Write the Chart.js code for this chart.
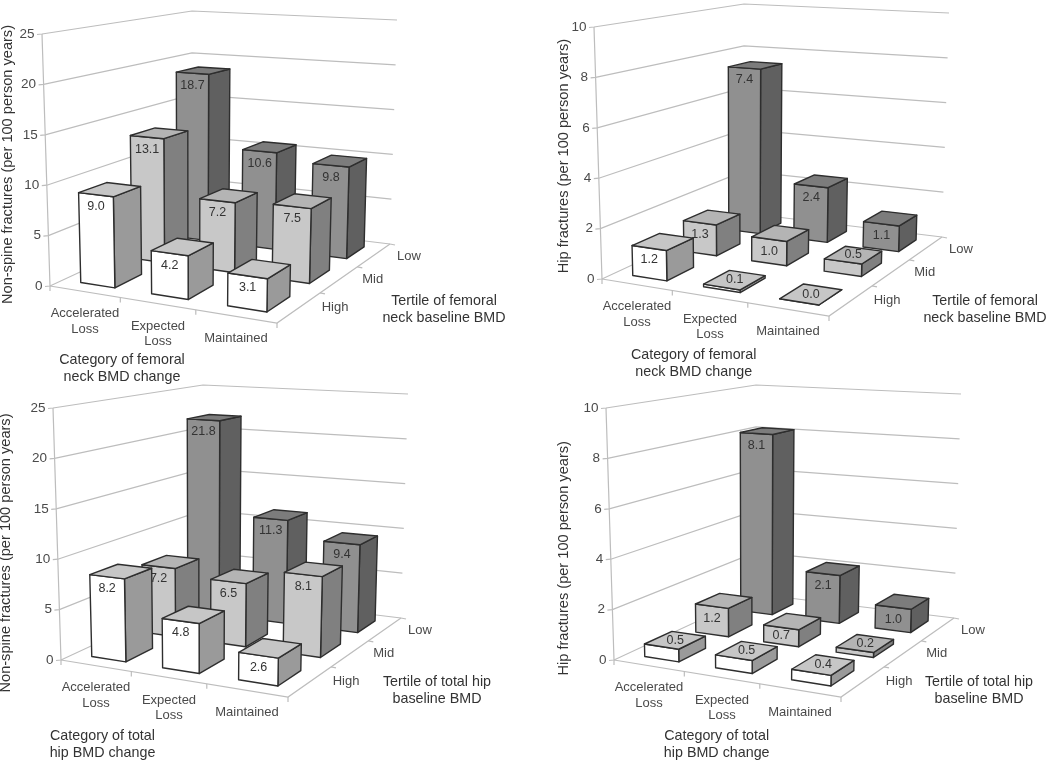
<!DOCTYPE html>
<html>
<head>
<meta charset="utf-8">
<script src="https://cdn.jsdelivr.net/npm/chart.js@4/dist/chart.umd.js"></script>
<style>
html,body{margin:0;padding:0;background:#fff;width:1050px;height:761px;overflow:hidden}
canvas{position:absolute;display:block}
</style>
</head>
<body>
<canvas id="c0" width="525" height="384" style="left:0;top:0"></canvas>
<canvas id="c1" width="525" height="384" style="left:525px;top:0"></canvas>
<canvas id="c2" width="525" height="377" style="left:0;top:384px"></canvas>
<canvas id="c3" width="525" height="377" style="left:525px;top:384px"></canvas>
<script>
// ---- data ----
const categories = ['Accelerated Loss', 'Expected Loss', 'Maintained'];
const tertiles = ['High', 'Mid', 'Low'];

const femoralNonSpineHigh = [9.0, 4.2, 3.1];
const femoralNonSpineMid  = [13.1, 7.2, 7.5];
const femoralNonSpineLow  = [18.7, 10.6, 9.8];

const femoralHipHigh = [1.2, 0.1, 0.0];
const femoralHipMid  = [1.3, 1.0, 0.5];
const femoralHipLow  = [7.4, 2.4, 1.1];

const totalHipNonSpineHigh = [8.2, 4.8, 2.6];
const totalHipNonSpineMid  = [7.2, 6.5, 8.1];
const totalHipNonSpineLow  = [21.8, 11.3, 9.4];

const totalHipHipHigh = [0.5, 0.5, 0.4];
const totalHipHipMid  = [1.2, 0.7, 0.2];
const totalHipHipLow  = [8.1, 2.1, 1.0];

// ---- panel layout ----
const PANELS = [
  {id:'c0', org:[0,0],     off:[0,0],    max:25, step:5, high:femoralNonSpineHigh, mid:femoralNonSpineMid, low:femoralNonSpineLow,
   yTitle:'Non-spine fractures (per 100 person years)', yt:[8,164.5],
   tTitle:['Tertile of femoral','neck baseline BMD'], tt:[444,301], cTitle:['Category of femoral','neck BMD change'], ct:[122,360]},
  {id:'c1', org:[525,0],   off:[552,-7], max:10, step:2, high:femoralHipHigh, mid:femoralHipMid, low:femoralHipLow,
   yTitle:'Hip fractures (per 100 person years)', yt:[564,156],
   tTitle:['Tertile of femoral','neck baseline BMD'], tt:[985,301], cTitle:['Category of femoral','neck BMD change'], ct:[693.7,355.5]},
  {id:'c2', org:[0,384],   off:[11,374], max:25, step:5, high:totalHipNonSpineHigh, mid:totalHipNonSpineMid, low:totalHipNonSpineLow,
   yTitle:'Non-spine fractures (per 100 person years)', yt:[6,553],
   tTitle:['Tertile of total hip','baseline BMD'], tt:[437,681.7], cTitle:['Category of total','hip BMD change'], ct:[102.5,736]},
  {id:'c3', org:[525,384], off:[564,374], max:10, step:2, high:totalHipHipHigh, mid:totalHipHipMid, low:totalHipHipLow,
   yTitle:'Hip fractures (per 100 person years)', yt:[563.5,558.3],
   tTitle:['Tertile of total hip','baseline BMD'], tt:[979,681.7], cTitle:['Category of total','hip BMD change'], ct:[716.7,736]}
];

// Box corners of the reference panel: FL, FR, BR, BL
const FLOOR = [[50,286],[277,323],[390,244],[192,220]];
const CEIL  = [[42,34],[282,48],[397,20],[192,11]];
const CAT_LABELS = [[['Accelerated','Loss'],85,313.5],[['Expected','Loss'],158,326],[['Maintained'],236,338.5]];
const TER_LABELS = [['High',335,307.7],['Mid',372.7,279],['Low',409,256]];
const STYLES = [
  {front:'#ffffff', top:'#c6c6c6', side:'#9a9a9a'},
  {front:'#c8c8c8', top:'#b4b4b4', side:'#808080'},
  {front:'#909090', top:'#7c7c7c', side:'#606060'}
];
const EDGE = '#2e2e2e', GRID = '#bdbdbd', TEXT = '#333333', SOFT = '#4a4a4a';
const FONT = '"Liberation Sans", Arial, sans-serif';
Chart.defaults.font.family = FONT;

function quad(p){
  const [[x0,y0],[x1,y1],[x2,y2],[x3,y3]] = p;
  const dx1=x1-x2, dx2=x3-x2, sx=x0-x1+x2-x3, dy1=y1-y2, dy2=y3-y2, sy=y0-y1+y2-y3;
  const det=dx1*dy2-dx2*dy1;
  const g=(sx*dy2-dx2*sy)/det, h=(dx1*sy-sx*dy1)/det;
  const a=x1-x0+g*x1, b=x3-x0+h*x3, d=y1-y0+g*y1, e=y3-y0+h*y3;
  return (u,w)=>{const q=g*u+h*w+1; return [(a*u+b*w+x0)/q,(d*u+e*w+y0)/q];};
}
const GEOM = {};
PANELS.forEach(p=>{
  const dx=p.off[0]-p.org[0], dy=p.off[1]-p.org[1];
  const sh=c=>c.map(q=>[q[0]+dx,q[1]+dy]);
  GEOM[p.id]={dx,dy,floor:quad(sh(FLOOR)),ceil:quad(sh(CEIL)),panel:p,
    axisX:FLOOR[0][0]+dx, top:CEIL[0][1]+dy, bottom:FLOOR[0][1]+dy};
});

// (u,w) in 0..1 over the floor, height through the library's value scale
function project(chart,u,w,v){
  const g=GEOM[chart.canvas.id], y=chart.scales.y;
  const t=(y.bottom-y.getPixelForValue(v))/(y.bottom-y.top);
  const a=g.floor(u,w), b=g.ceil(u,w);
  return [a[0]+(b[0]-a[0])*t, a[1]+(b[1]-a[1])*t];
}
function uOf(s,i,off){const c=s.getPixelForValue(1)-s.getPixelForValue(0);return (s.getPixelForValue(i)+off*c-s.left)/s.width;}
function poly(ctx,pts,fill){
  ctx.beginPath();pts.forEach((q,i)=>i?ctx.lineTo(q[0],q[1]):ctx.moveTo(q[0],q[1]));ctx.closePath();
  ctx.fillStyle=fill;ctx.fill();ctx.stroke();
}

// Bars drawn as boxes; the position comes from the chart's scales
const HALF_U=0.245, HALF_W=0.26;
Chart.BarElement.prototype.draw=function(ctx){
  const c=this.$cell, chart=c.chart, v=chart.data.datasets[c.datasetIndex].data[c.dataIndex], st=STYLES[c.datasetIndex];
  const x=chart.scales.x, z=chart.scales.z;
  const u0=uOf(x,c.dataIndex,-HALF_U), u1=uOf(x,c.dataIndex,HALF_U);
  const w0=uOf(z,c.datasetIndex,-HALF_W), w1=uOf(z,c.datasetIndex,HALF_W);
  const P=(u,w,h)=>project(chart,u,w,h);
  ctx.save();
  ctx.lineWidth=1.4;ctx.strokeStyle=EDGE;ctx.lineJoin='round';
  poly(ctx,[P(u1,w0,0),P(u1,w1,0),P(u1,w1,v),P(u1,w0,v)],st.side);
  poly(ctx,[P(u0,w0,0),P(u1,w0,0),P(u1,w0,v),P(u0,w0,v)],st.front);
  poly(ctx,[P(u0,w0,v),P(u1,w0,v),P(u1,w1,v),P(u0,w1,v)],st.top);
  ctx.fillStyle=TEXT;ctx.font='12.5px '+FONT;ctx.textAlign='center';ctx.textBaseline='middle';
  let lab;
  if(v<0.6){lab=P((u0+u1)/2,(w0+w1)/2,v);}
  else{const a=P(u0,w0,v),b=P(u1,w0,v);lab=[(a[0]+b[0])/2,(a[1]+b[1])/2+(v<1?8:12)];}
  ctx.fillText(v.toFixed(1),lab[0],lab[1]);
  ctx.restore();
};

// Value axis that follows the slanted front edge of the box
class SlantedLinear extends Chart.LinearScale{
  _computeLabelItems(area){
    const items=super._computeLabelItems(area);
    items.forEach((it,i)=>{
      const t=this.ticks[i];
      if(t) it.options.translation[0]+=project(this.chart,0,0,t.value)[0]-this.right;
    });
    return items;
  }
  drawTitle(){
    const g=GEOM[this.chart.canvas.id], p=g.panel, ctx=this.ctx;
    const lh=this.options.title.font.size*1.2;
    ctx.save();
    ctx.translate(p.yt[0]-p.org[0]-(this.left+lh/2), p.yt[1]-p.org[1]-(this.top+this.bottom)/2);
    super.drawTitle();
    ctx.restore();
  }
}
SlantedLinear.id='slanted';
SlantedLinear.defaults=Chart.LinearScale.defaults;
Chart.register(SlantedLinear);

const box3d={
  id:'box3d',
  afterDatasetsUpdate(chart){
    chart.data.datasets.forEach((d,di)=>{
      chart.getDatasetMeta(di).data.forEach((el,i)=>{el.$cell={chart,datasetIndex:di,dataIndex:i};});
    });
  },
  beforeDatasetsDraw(chart){
    const ctx=chart.ctx, y=chart.scales.y;
    const P=(u,w,v)=>project(chart,u,w,v);
    ctx.save();ctx.strokeStyle=GRID;ctx.lineWidth=1.2;
    const line=pts=>{ctx.beginPath();pts.forEach((q,i)=>i?ctx.lineTo(q[0],q[1]):ctx.moveTo(q[0],q[1]));ctx.stroke();};
    y.ticks.forEach(t=>{
      const a=P(0,0,t.value);
      line([[a[0]-5,a[1]+0.5],a,P(0,1,t.value),P(1,1,t.value)]);
    });
    line([P(0,0,0),P(0,0,y.max)]);
    line([P(0,0,0),P(1,0,0),P(1,1,0)]);
    for(let i=0;i<=categories.length;i++){const a=P(i/categories.length,0,0);line([a,[a[0],a[1]+5]]);}
    for(let j=1;j<=tertiles.length;j++){const a=P(1,j/tertiles.length,0);line([a,[a[0]+5,a[1]+1]]);}
    ctx.restore();
  },
  afterDatasetsDraw(chart){
    const g=GEOM[chart.canvas.id], p=g.panel, ctx=chart.ctx;
    ctx.save();
    ctx.textAlign='center';ctx.textBaseline='middle';
    ctx.fillStyle=SOFT;ctx.font='13px '+FONT;
    CAT_LABELS.forEach(([ls,x,y])=>ls.forEach((s,i)=>ctx.fillText(s,x+g.dx,y+g.dy+i*15.8)));
    TER_LABELS.forEach(([s,x,y])=>ctx.fillText(s,x+g.dx,y+g.dy));
    ctx.fillStyle=TEXT;ctx.font='14.3px '+FONT;
    p.tTitle.forEach((s,i)=>ctx.fillText(s,p.tt[0]-p.org[0],p.tt[1]-p.org[1]+i*17));
    p.cTitle.forEach((s,i)=>ctx.fillText(s,p.ct[0]-p.org[0],p.ct[1]-p.org[1]+i*17));
    ctx.restore();
  }
};

PANELS.forEach(p=>{
  const g=GEOM[p.id], cv=document.getElementById(p.id);
  new Chart(cv,{
    type:'bar',
    data:{labels:categories,datasets:[
      {label:tertiles[0],data:p.high,clip:false},
      {label:tertiles[1],data:p.mid,clip:false},
      {label:tertiles[2],data:p.low,clip:false}
    ]},
    plugins:[box3d],
    options:{
      responsive:false,animation:false,
      layout:{padding:{left:0,right:0,top:g.top,bottom:cv.height-g.bottom}},
      plugins:{legend:{display:false},tooltip:{enabled:false}},
      scales:{
        x:{type:'category',offset:true,display:false},
        z:{type:'category',labels:tertiles,offset:true,display:false,axis:'x'},
        y:{type:'slanted',min:0,max:p.max,
          afterFit(s){s.width=g.axisX;},
          border:{display:false},
          grid:{drawOnChartArea:false,drawTicks:false},
          ticks:{stepSize:p.step,padding:7.5,color:SOFT,font:{size:13.5}},
          title:{display:true,text:p.yTitle,color:TEXT,padding:0,font:{size:14.6}}
        }
      }
    }
  });
});
</script>
</body>
</html>
